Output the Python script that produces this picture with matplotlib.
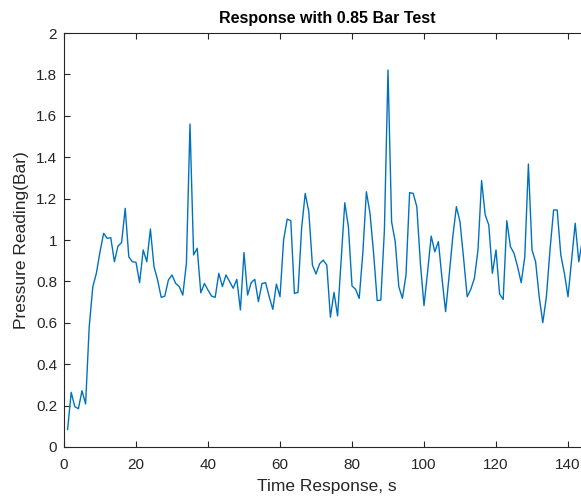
import numpy as np
import matplotlib
matplotlib.use("Agg")
import matplotlib.pyplot as plt
from matplotlib.ticker import FuncFormatter

# pressure samples, one per second
pressure = [
    0.085, 0.264, 0.195, 0.185, 0.272, 0.208, 0.58, 0.774, 0.84, 0.943,
    1.032, 1.008, 1.011, 0.895, 0.971, 0.987, 1.153, 0.919, 0.895, 0.892,
    0.794, 0.952, 0.895, 1.053, 0.871, 0.807, 0.723, 0.729, 0.807, 0.831,
    0.791, 0.775, 0.734, 0.887, 1.56, 0.928, 0.96, 0.745, 0.79, 0.758,
    0.729, 0.723, 0.839, 0.775, 0.831, 0.799, 0.767, 0.81, 0.662, 0.939,
    0.734, 0.794, 0.81, 0.702, 0.79, 0.794, 0.726, 0.665, 0.787, 0.726,
    1.0, 1.101, 1.093, 0.742, 0.747, 1.056, 1.225, 1.137, 0.879, 0.836,
    0.885, 0.903, 0.879, 0.627, 0.747, 0.633, 0.903, 1.18, 1.064, 0.778,
    0.762, 0.718, 0.936, 1.233, 1.129, 0.936, 0.707, 0.71, 1.048, 1.821,
    1.088, 0.992, 0.775, 0.718, 0.831, 1.229, 1.225, 1.161, 0.887, 0.683,
    0.847, 1.019, 0.943, 0.992, 0.815, 0.654, 0.831, 1.016, 1.161, 1.088,
    0.911, 0.726, 0.762, 0.815, 0.952, 1.287, 1.121, 1.072, 0.839, 0.952,
    0.739, 0.713, 1.093, 0.968, 0.936, 0.871, 0.794, 0.919, 1.367, 0.952,
    0.895, 0.726, 0.601, 0.726, 0.952, 1.145, 1.145, 0.928, 0.839, 0.726,
    0.903, 1.081, 0.895, 1.0,
]
time_s = np.arange(1, len(pressure) + 1)

xticks = [0, 20, 40, 60, 80, 100, 120, 140]
yticks = [0, 0.2, 0.4, 0.6, 0.8, 1, 1.2, 1.4, 1.6, 1.8, 2]

plt.rcParams['font.family'] = ['Liberation Sans', 'DejaVu Sans']
axcol = '#262626'

W, H = 581, 501
fig = plt.figure(figsize=(W / 100, H / 100), dpi=100)
# axes: left 64px, bottom spine at 447px, top at 33px, right runs past the crop
left, bottom, top = 64, 447, 33
xmax = 146
width = xmax * 3.6
ax = fig.add_axes([left / W, (H - bottom) / H, width / W, (bottom - top) / H])

ax.plot(time_s, pressure, color='#0072BD', lw=1.0)

ax.set_xlim(0, xmax)
ax.set_ylim(0, 2)
ax.set_xticks(xticks)
ax.set_yticks(yticks)
ax.yaxis.set_major_formatter(FuncFormatter(lambda v, p: '%g' % v))
ax.tick_params(direction='in', length=4, width=0.8, colors=axcol,
               labelsize=11, top=True, right=True, pad=5)
ax.tick_params(axis='x', pad=8)
for s in ax.spines.values():
    s.set_color(axcol)
    s.set_linewidth(0.8)

ax.set_title('Response with 0.85 Bar Test', fontsize=11.5, fontweight='bold',
             color='black', pad=7)
ax.set_xlabel('Time Response, s', fontsize=12.5, color=axcol, labelpad=5)
ax.set_ylabel('Pressure Reading(Bar)', fontsize=12.5, color=axcol, labelpad=5)

fig.savefig('out.png', dpi=100)
